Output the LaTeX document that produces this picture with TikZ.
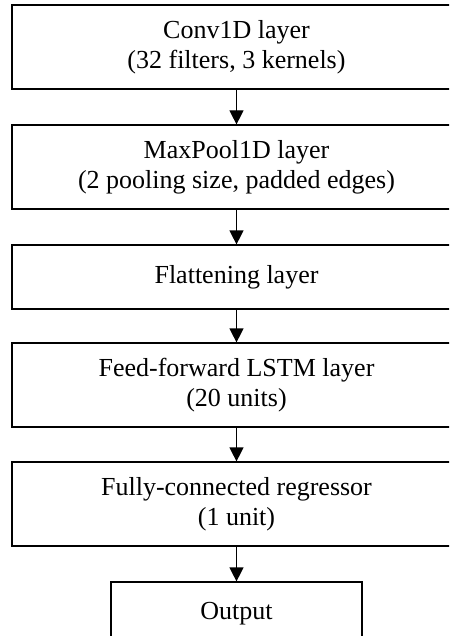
\documentclass[tikz,border=0pt]{standalone}
\usepackage{fontspec}
\setmainfont{Liberation Serif}
\usetikzlibrary{arrows.meta}
\begin{document}
\begin{tikzpicture}[x=1pt,y=-1pt,
  layer/.style={draw, line width=1.2pt, rectangle, minimum width=449pt,
    align=center, inner sep=0pt, font=\fontsize{26}{30}\selectfont},
  flow/.style={-{Triangle[width=14pt,length=14pt]}, line width=1.2pt}]
\useasboundingbox (0,0) rectangle (449,636);
\clip (0,0) rectangle (449,636);
\node[layer, minimum height=84pt] (b1) at (236.5,47) {Conv1D layer\\(32 filters, 3 kernels)};
\node[layer, minimum height=84pt] (b2) at (236.5,167) {MaxPool1D layer\\(2 pooling size, padded edges)};
\node[layer, minimum height=64pt] (b3) at (236.5,277) {Flattening layer};
\node[layer, minimum height=84pt] (b4) at (236.5,385) {Feed-forward LSTM layer\\(20 units)};
\node[layer, minimum height=84pt] (b5) at (236.5,504) {Fully-connected regressor\\(1 unit)};
\node[layer, minimum width=251pt, minimum height=64pt] (out) at (236.5,614) {Output};
\draw[flow] (b1.south) -- (b2.north);
\draw[flow] (b2.south) -- (b3.north);
\draw[flow] (b3.south) -- (b4.north);
\draw[flow] (b4.south) -- (b5.north);
\draw[flow] (b5.south) -- (out.north);
\end{tikzpicture}
\end{document}
